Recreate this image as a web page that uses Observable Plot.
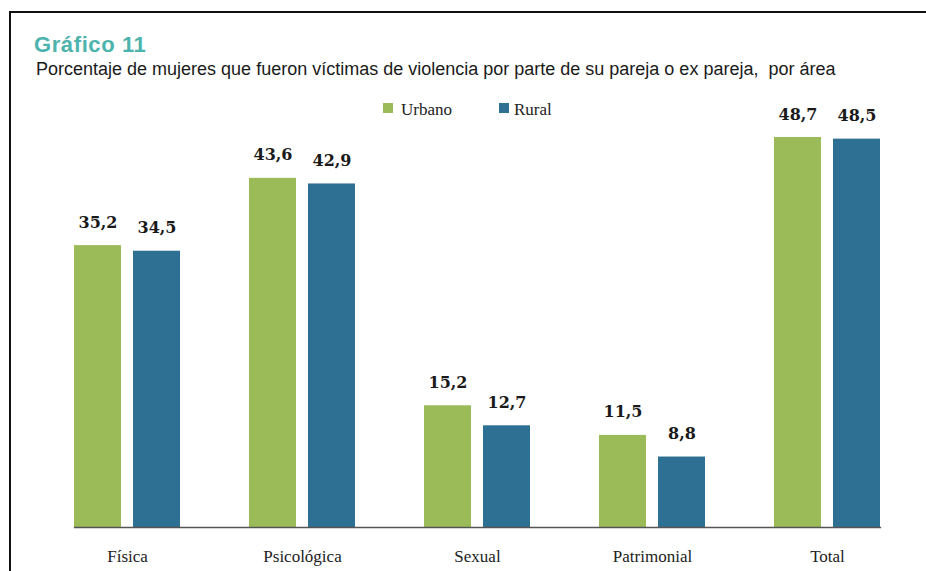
<!DOCTYPE html>
<html><head><meta charset="utf-8">
<script src="https://cdn.jsdelivr.net/npm/d3@7"></script>
<script src="https://cdn.jsdelivr.net/npm/@observablehq/plot@0.6"></script>
<style>
html,body{margin:0;padding:0;background:#fff;}
#wrap{position:relative;width:926px;height:571px;overflow:hidden;background:#fff;}
#frame{position:absolute;left:9px;top:11px;width:940px;height:580px;border-left:2px solid #111;border-top:2px solid #111;box-sizing:border-box;}
#chart{position:absolute;left:0;top:0;}
.t{position:absolute;white-space:nowrap;line-height:1;}
#title{left:34px;top:32px;font:bold 22px "Liberation Sans",Arial,sans-serif;letter-spacing:0.6px;color:#4db3ad;}
#subtitle{left:36px;top:59px;font:18px "Liberation Sans",Arial,sans-serif;color:#1a1a1a;}
.lg{position:absolute;top:101px;font:17px "Liberation Serif",serif;color:#222;line-height:1;white-space:nowrap;}
.sw{position:absolute;top:103px;width:10px;height:10px;}
</style></head>
<body>
<div id="wrap">
  <div id="frame"></div>
  <div id="chart"></div>
  <div class="t" id="title">Gráfico 11</div>
  <div class="t" id="subtitle">Porcentaje de mujeres que fueron víctimas de violencia por parte de su pareja o ex pareja,&nbsp; por área</div>
  <div id="legend"></div>
</div>
<script>
const categories = ["Física", "Psicológica", "Sexual", "Patrimonial", "Total"];
const series = ["Urbano", "Rural"];
const urbano = [35.2, 43.6, 15.2, 11.5, 48.7];
const rural = [34.5, 42.9, 12.7, 8.8, 48.5];
const colors = ["#9bbb59", "#2e7093"];

const data = categories.flatMap((c, i) => [
  {category: c, area: series[0], value: urbano[i]},
  {category: c, area: series[1], value: rural[i]}
]);

const chart = Plot.plot({
  width: 926,
  height: 571,
  marginLeft: 38,
  marginRight: 10,
  marginTop: 126.6,
  marginBottom: 44,
  style: {fontFamily: "'Liberation Serif', serif", fontSize: "17px", color: "#222", background: "transparent", overflow: "visible"},
  facet: {marginTop: 0, marginBottom: 0, marginLeft: 0, marginRight: 0},
  fx: {domain: categories, paddingInner: 0.396, paddingOuter: 0.198, label: null, axis: "bottom", tickSize: 0, tickPadding: 22},
  x: {domain: series, paddingInner: 0.2034, paddingOuter: 0, axis: null, round: false},
  y: {domain: [0, 50], axis: null},
  color: {domain: series, range: colors},
  marks: [
    Plot.barY(data, {fx: "category", x: "area", y: "value", fill: "area"}),
    Plot.text(data, {fx: "category", x: "area", y: "value",
      text: d => d.value.toFixed(1).replace(".", ","),
      dy: -18, lineAnchor: "bottom",
      fontFamily: "'DejaVu Serif', serif", fontWeight: "bold", fontSize: 16, fill: "#1a1a1a"}),
    Plot.frame({anchor: "bottom", facet: "super", stroke: "#555", strokeWidth: 1.3})
  ]
});
document.getElementById("chart").appendChild(chart);

const legendPos = [[383, 401], [499, 514]];
const lg = document.getElementById("legend");
series.forEach((s, i) => {
  const sw = document.createElement("div");
  sw.className = "sw"; sw.style.left = legendPos[i][0] + "px"; sw.style.background = colors[i];
  const tx = document.createElement("div");
  tx.className = "lg"; tx.style.left = legendPos[i][1] + "px"; tx.textContent = s;
  lg.appendChild(sw); lg.appendChild(tx);
});
</script>
</body></html>
